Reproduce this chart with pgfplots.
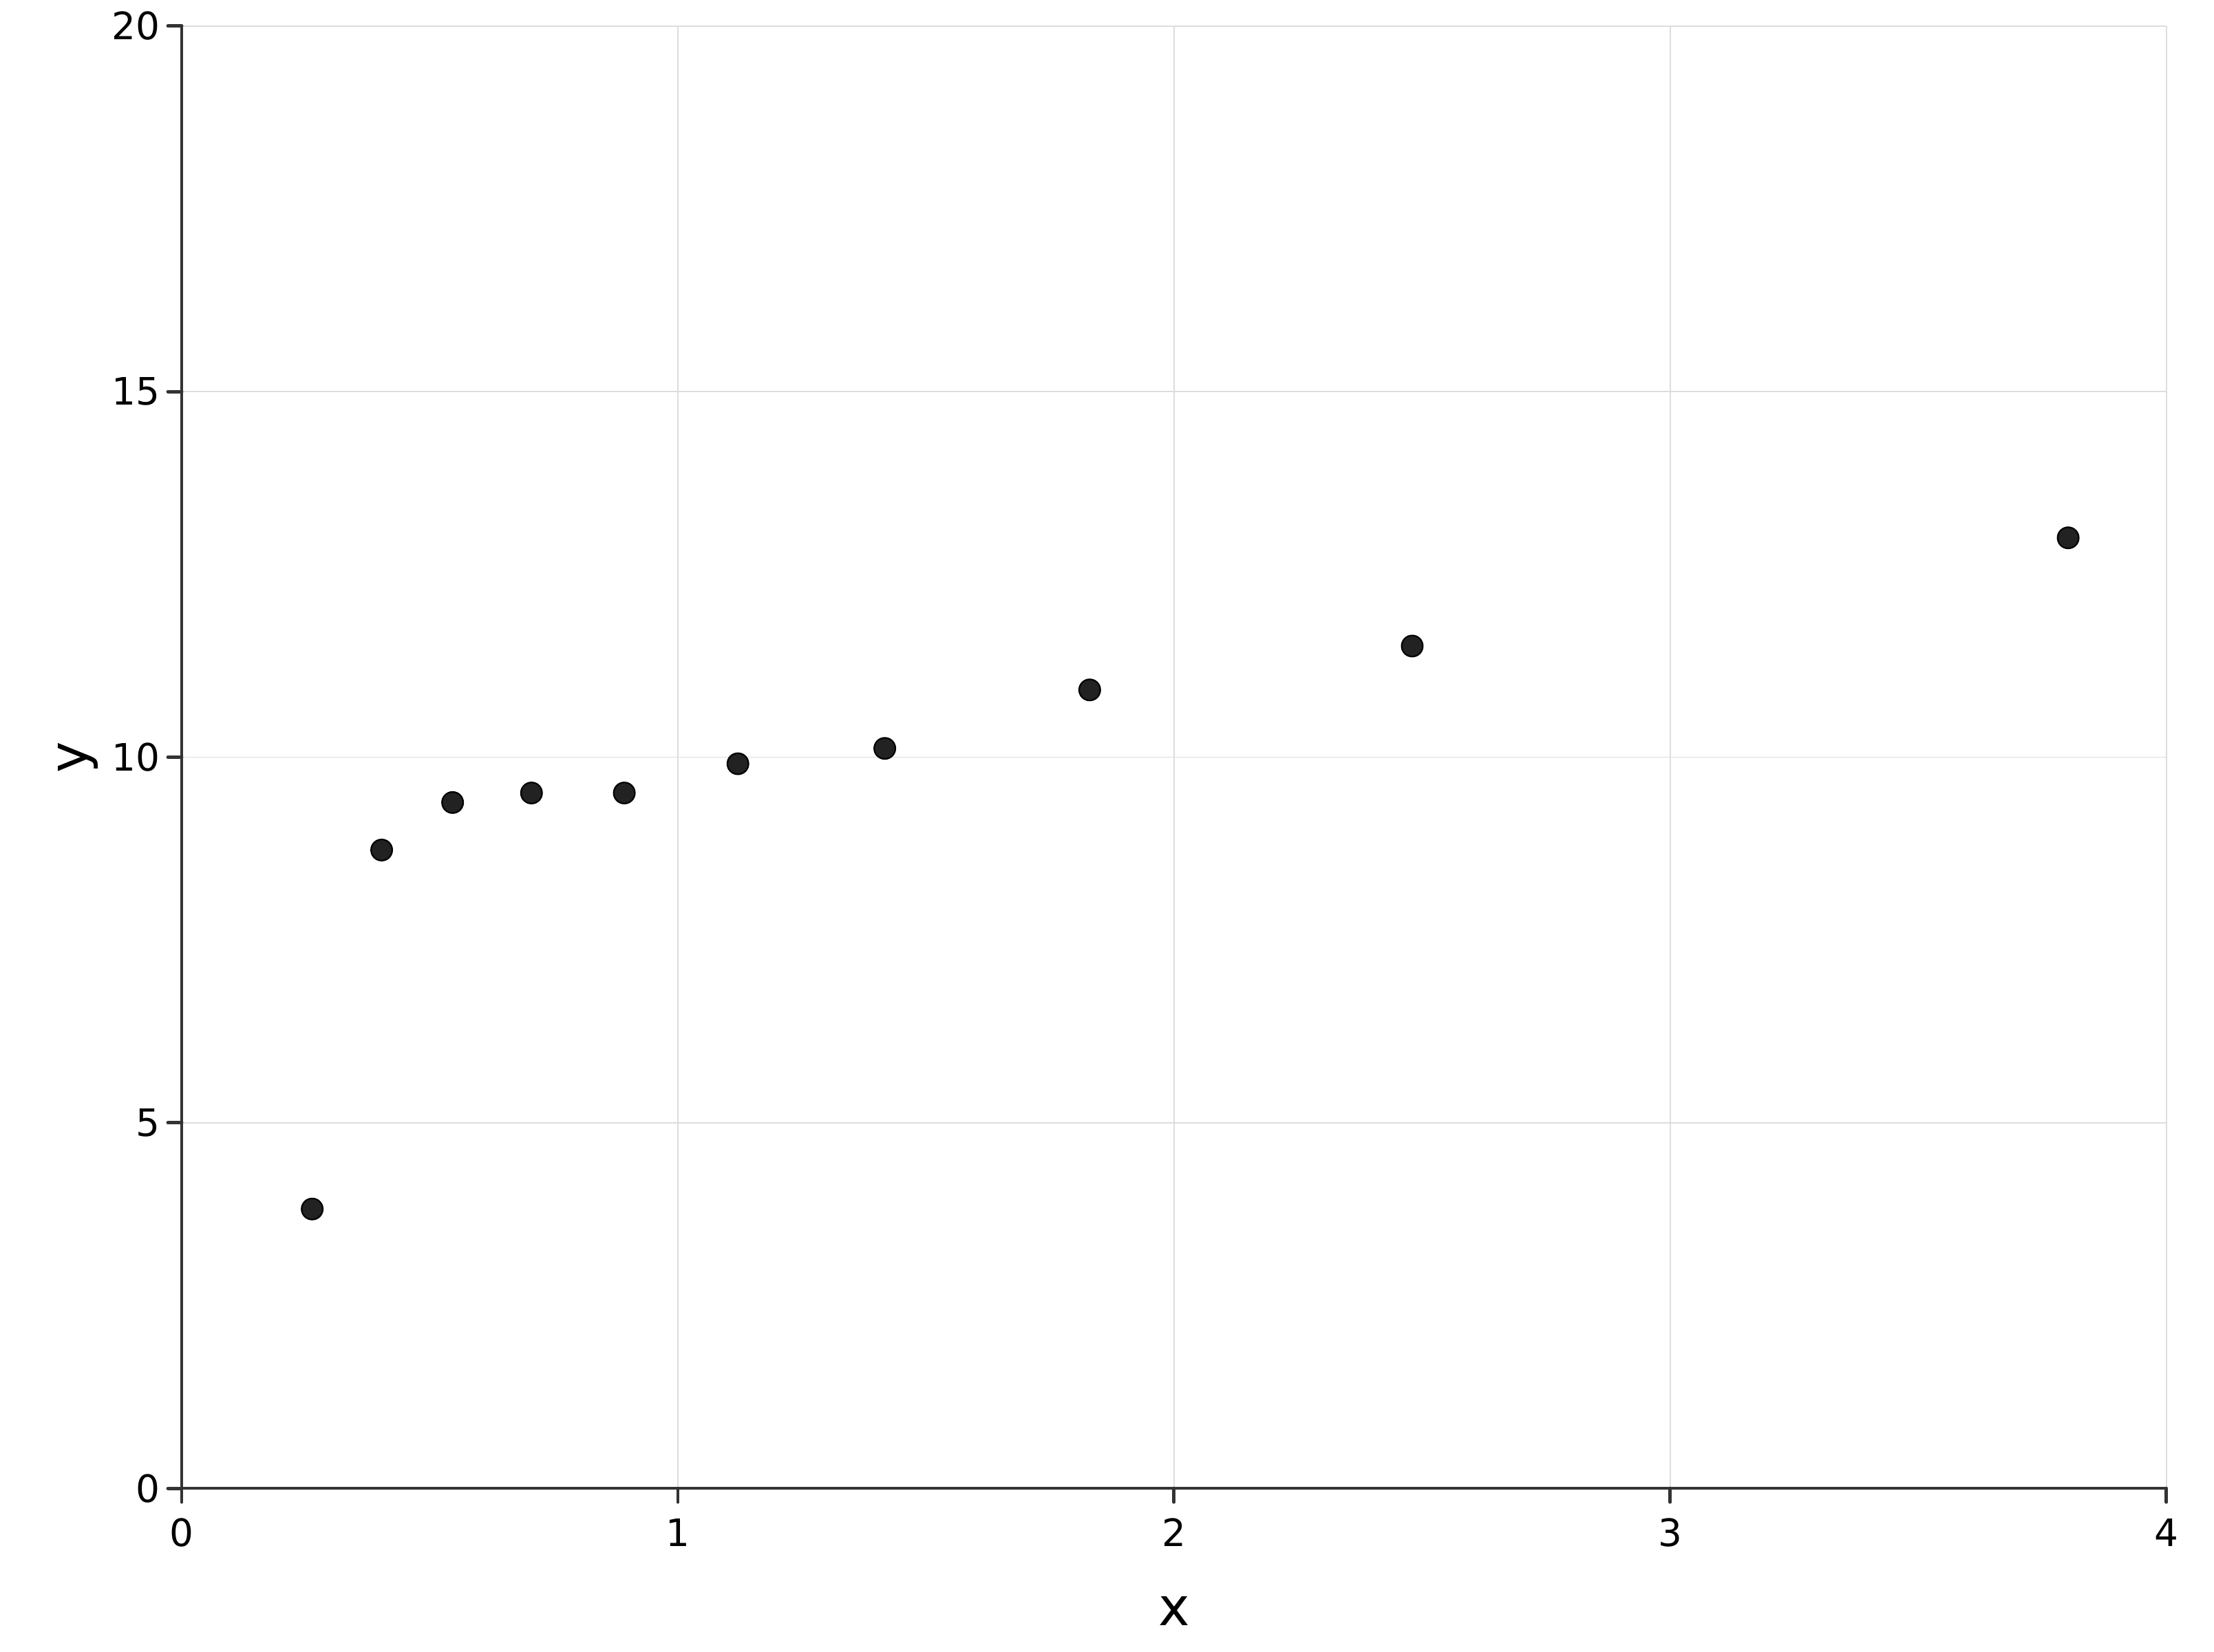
\documentclass[border=0pt]{standalone}
\usepackage{fontspec}
\setmainfont{DejaVu Sans}
\usepackage{pgfplots}
\pgfplotsset{compat=1.18}

\definecolor{markc}{HTML}{222222}
\definecolor{axisc}{HTML}{333333}
\definecolor{gridc}{HTML}{DDDDDD}

\begin{document}
\begin{tikzpicture}
\begin{axis}[
    name=ax,
    scale only axis,
    width=525.4pt,
    height=387.2pt,
    xmin=0, xmax=4,
    ymin=0, ymax=20,
    xtick={0,1,2,3,4},
    ytick={0,5,10,15,20},
    axis lines=left,
    axis line style={-, draw=axisc, line width=0.8pt},
    every inner x axis line/.append style={-},
    every inner y axis line/.append style={-},
    tick align=outside,
    major tick length=3.64pt,
    tick style={draw=axisc, line width=0.9pt, line cap=round},
    grid=major,
    grid style={draw=gridc, line width=0.3pt},
    /pgf/number format/assume math mode=true,
    ticklabel style={font=\fontsize{10}{12}\selectfont, inner sep=0pt},
    xticklabel style={anchor=north, yshift=-4.2pt},
    yticklabel style={anchor=east, xshift=-1.9pt},
    xlabel={x},
    ylabel={y},
    label style={font=\fontsize{14}{16}\selectfont},
    xlabel style={at={(axis description cs:0.5,0)}, anchor=base, yshift=-36.3pt},
    ylabel style={at={(axis description cs:0,0.5)}, rotate=0, anchor=base, yshift=25pt},
]
\addplot[only marks, mark=*, mark size=2.8pt, mark options={fill=markc, draw=none}]
coordinates {
    (0.263, 3.82)(0.403, 8.73)(0.546, 9.38)(0.705, 9.51)(0.892, 9.51)
    (1.121, 9.91)(1.417, 10.12)(1.830, 10.92)(2.480, 11.52)(3.802, 13.00)
};
\end{axis}
\path ([shift={(-48.1pt,-43.2pt)}]ax.south west) rectangle ([shift={(12.6pt,6.9pt)}]ax.north east);
\end{tikzpicture}
\end{document}
